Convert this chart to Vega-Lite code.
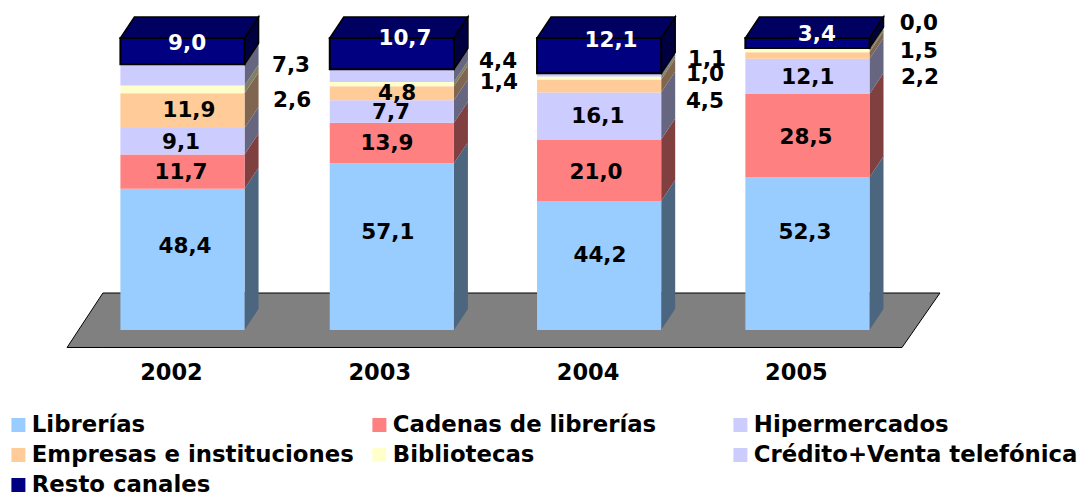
{"$schema":"https://vega.github.io/schema/vega-lite/v6.json","width":1077,"height":493,"padding":0,"autosize":{"type":"none"},"background":"white","config":{"view":{"stroke":null},"text":{"font":"DejaVu Sans","fontWeight":"bold","fontSize":21.5}},
"datasets":{"piso":[{"u":-0.554,"lo":-5.99,"hi":-5.99},{"u":-0.382,"lo":-5.99,"hi":12.67},{"u":3.454,"lo":-5.99,"hi":12.67},{"u":3.636,"lo":12.67,"hi":12.67}],
"ventas":[
{"year":2002,"canal":"Librerías","value":48.4},{"year":2002,"canal":"Cadenas de librerías","value":11.7},{"year":2002,"canal":"Hipermercados","value":9.1},{"year":2002,"canal":"Empresas e instituciones","value":11.9},{"year":2002,"canal":"Bibliotecas","value":2.6},{"year":2002,"canal":"Crédito+Venta telefónica","value":7.3},{"year":2002,"canal":"Resto canales","value":9.0},
{"year":2003,"canal":"Librerías","value":57.1},{"year":2003,"canal":"Cadenas de librerías","value":13.9},{"year":2003,"canal":"Hipermercados","value":7.7},{"year":2003,"canal":"Empresas e instituciones","value":4.8},{"year":2003,"canal":"Bibliotecas","value":1.4},{"year":2003,"canal":"Crédito+Venta telefónica","value":4.4},{"year":2003,"canal":"Resto canales","value":10.7},
{"year":2004,"canal":"Librerías","value":44.2},{"year":2004,"canal":"Cadenas de librerías","value":21.0},{"year":2004,"canal":"Hipermercados","value":16.1},{"year":2004,"canal":"Empresas e instituciones","value":4.5},{"year":2004,"canal":"Bibliotecas","value":1.0},{"year":2004,"canal":"Crédito+Venta telefónica","value":1.1},{"year":2004,"canal":"Resto canales","value":12.1},
{"year":2005,"canal":"Librerías","value":52.3},{"year":2005,"canal":"Cadenas de librerías","value":28.5},{"year":2005,"canal":"Hipermercados","value":12.1},{"year":2005,"canal":"Empresas e instituciones","value":2.2},{"year":2005,"canal":"Bibliotecas","value":1.5},{"year":2005,"canal":"Crédito+Venta telefónica","value":0.0},{"year":2005,"canal":"Resto canales","value":3.4}
]},
"data":{"name":"ventas"},
"transform":[
{"calculate":"indexof(['Librerías','Cadenas de librerías','Hipermercados','Empresas e instituciones','Bibliotecas','Crédito+Venta telefónica','Resto canales'],datum.canal)","as":"idx"},
{"stack":"value","groupby":["year"],"sort":[{"field":"idx","order":"ascending"}],"as":["y0","y1"]},
{"calculate":"[0,1.005,2,3][datum.year-2002]","as":"ctr"},
{"calculate":"datum.ctr-0.298","as":"xl"},
{"calculate":"datum.ctr+0.298","as":"xr"},
{"calculate":"datum.year+'-'+datum.idx","as":"key"}
],
"layer":[
{"data":{"name":"piso"},"transform":[],"mark":{"type":"area","orient":"vertical","fill":"#808080","stroke":"black","strokeWidth":1},
"encoding":{"x":{"field":"u","type":"quantitative","scale":{"domain":[-0.876,4.294],"nice":false,"zero":false},"axis":null},"y":{"field":"lo","type":"quantitative","scale":{"domain":[-55.82,113.01],"nice":false,"zero":false},"axis":null},"y2":{"field":"hi"}}},
{"transform":[{"filter":"datum.value>0"},{"calculate":"[0,1]","as":"k"},{"flatten":["k"]},{"calculate":"datum.xr+datum.k*0.0672","as":"sx"},{"calculate":"datum.y0+datum.k*7.19","as":"slo"},{"calculate":"datum.y1+datum.k*7.19","as":"shi"}],
"mark":{"type":"area","orient":"vertical"},
"encoding":{"x":{"field":"sx","type":"quantitative","scale":{"domain":[-0.876,4.294],"nice":false,"zero":false},"axis":null},"y":{"field":"slo","type":"quantitative","scale":{"domain":[-55.82,113.01],"nice":false,"zero":false},"axis":null},"y2":{"field":"shi"},"detail":{"field":"key"},
"fill":{"field":"idx","type":"nominal","legend":null,"scale":{"domain":[0,1,2,3,4,5,6],"range":["#4D6680","#804040","#666680","#806650","#808066","#666680","#000040"]}},
"stroke":{"condition":{"test":"datum.idx===6","value":"black"},"value":"transparent"},"strokeWidth":{"value":1.5}}},
{"transform":[{"filter":"datum.idx===6"},{"calculate":"[0,1,2,3]","as":"k"},{"flatten":["k"]},{"calculate":"datum.k===0?datum.xl:datum.k===1?datum.xl+0.0672:datum.k===2?datum.xr:datum.xr+0.0672","as":"sx"},{"calculate":"datum.k<3?datum.y1:datum.y1+7.19","as":"slo"},{"calculate":"datum.k===0?datum.y1:datum.y1+7.19","as":"shi"}],
"mark":{"type":"area","orient":"vertical","fill":"#000060","stroke":"black","strokeWidth":1.5},
"encoding":{"x":{"field":"sx","type":"quantitative","scale":{"domain":[-0.876,4.294],"nice":false,"zero":false},"axis":null},"y":{"field":"slo","type":"quantitative","scale":{"domain":[-55.82,113.01],"nice":false,"zero":false},"axis":null},"y2":{"field":"shi"},"detail":{"field":"key"}}},
{"mark":{"type":"rect"},
"encoding":{"x":{"field":"xl","type":"quantitative","scale":{"domain":[-0.876,4.294],"nice":false,"zero":false},"axis":null},"x2":{"field":"xr"},"y":{"field":"y0","type":"quantitative","scale":{"domain":[-55.82,113.01],"nice":false,"zero":false},"axis":null},"y2":{"field":"y1"},
"color":{"field":"canal","type":"nominal","title":null,"scale":{"domain":["Librerías","Cadenas de librerías","Hipermercados","Empresas e instituciones","Bibliotecas","Crédito+Venta telefónica","Resto canales"],"range":["#99CCFF","#FF8080","#CCCCFF","#FFCC99","#FFFFCC","#CCCCFF","#000080"]},
"legend":{"orient":"none","direction":"horizontal","legendX":7,"legendY":413,"columns":3,"gridAlign":"all","symbolType":"square","symbolSize":196,"symbolOpacity":1,"labelFont":"DejaVu Sans","labelFontWeight":"bold","labelFontSize":22.8,"labelColor":"black","labelLimit":500,"labelOffset":2,"rowPadding":6,"columnPadding":12,"clipHeight":24,"encode":{"symbols":{"update":{"stroke":{"signal":"datum.value==='Resto canales'?'black':'transparent'"},"strokeWidth":{"value":1.5}}}}}},
"stroke":{"condition":{"test":"datum.idx===6","value":"black"},"value":"transparent"},"strokeWidth":{"value":2}}},
{"transform":[{"calculate":"[[0.012,-0.007,-0.007,0.031,0.526,0.521,0.022],[0.986,0.982,1.001,1.030,1.519,1.515,1.068],[2.004,1.985,1.994,2.508,2.508,2.518,2.057],[2.988,2.993,3.002,3.540,3.535,3.535,3.045]][datum.year-2002][datum.idx]","as":"lu"},{"calculate":"[[28.8,54.1,64.4,75.3,78.8,90.8,98.3],[33.6,64.0,74.7,81.2,84.9,92.1,100],[25.7,54.1,73.3,78.4,87.7,92.8,99.3],[33.6,66.1,86.6,86.6,95.5,105.1,101.4]][datum.year-2002][datum.idx]","as":"lv"},{"calculate":"replace(format(datum.value,'.1f'),'.',',')","as":"txt"}],
"mark":{"type":"text","align":"center","baseline":"middle","dy":1},
"encoding":{"x":{"field":"lu","type":"quantitative","scale":{"domain":[-0.876,4.294],"nice":false,"zero":false},"axis":null},"y":{"field":"lv","type":"quantitative","scale":{"domain":[-55.82,113.01],"nice":false,"zero":false},"axis":null},"text":{"field":"txt"},"fill":{"condition":{"test":"datum.idx===6","value":"white"},"value":"black"}}},
{"transform":[{"filter":"datum.idx===0"},{"calculate":"datum.year-2002-0.053","as":"yu"},{"calculate":"''+datum.year","as":"ylab"}],
"mark":{"type":"text","align":"center","baseline":"middle","fill":"black","fontSize":22.5},
"encoding":{"x":{"field":"yu","type":"quantitative","scale":{"domain":[-0.876,4.294],"nice":false,"zero":false},"axis":null},"y":{"datum":-14.7,"type":"quantitative","scale":{"domain":[-55.82,113.01],"nice":false,"zero":false},"axis":null},"text":{"field":"ylab"}}}
],
"resolve":{"scale":{"fill":"independent"}}}
